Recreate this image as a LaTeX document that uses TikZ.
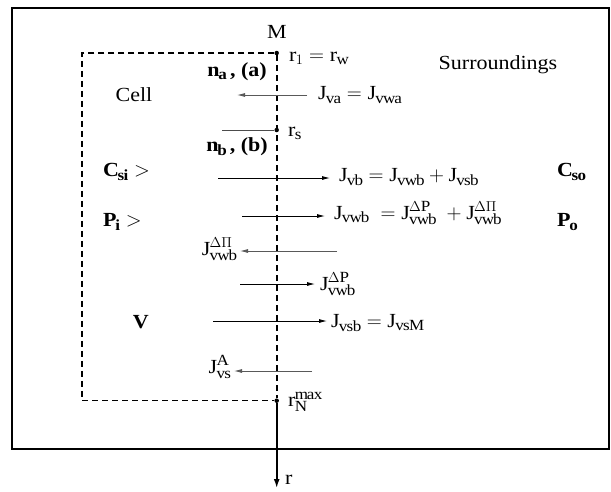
\documentclass[tikz,border=0pt]{standalone}
\usepackage{fontspec}
\setmainfont{Liberation Serif}[FakeStretch=1.1]
\DeclareMathSizes{20}{20}{15.5}{12}
\usetikzlibrary{arrows.meta}
\begin{document}
\begin{tikzpicture}[x=1pt,y=-1pt,
  txt/.style={inner sep=0pt,font=\fontsize{20}{24}\selectfont},
  flow/.style={line width=0.8pt,-{Latex[length=8pt,width=4pt]}},
  flowg/.style={flow,draw=black!65},
  cellb/.style={line width=1.2pt,dash pattern=on 6pt off 4pt},
  axis/.style={line width=1.6pt,dash pattern=on 6pt off 4pt},
  dotn/.style={circle,fill=black,inner sep=0pt,minimum size=4.5pt}]
\useasboundingbox (0,0) rectangle (611,491);
% outer surroundings box
\draw[line width=2.5pt] (12,8) rectangle (609,449);
% membrane axis points
\node[dotn] (top) at (276.7,53) {};
\node[dotn] (bot) at (276.7,400.7) {};
\node[dotn] (rs) at (276.7,130) {};
\coordinate (cTL) at (82,53);
\coordinate (cBL) at (82,400.7);
\coordinate (rend) at (276.7,488);
% cell boundary
\draw[cellb] (top) -- (cTL) -- (cBL) -- (bot);
\draw[axis] (top) -- (bot);
\draw[line width=1.6pt,-{Latex[length=9pt,width=6pt]}] (bot) -- (rend);
% labels
\node[txt] (M) at (277,32) {M};
\node[txt,anchor=west] (r1) at (289,58) {$\mathrm{r}_1=\mathrm{r}_{\mathrm{w}}$};
\node[txt] (surr) at (498,65) {Surroundings};
\node[txt] (cell) at (134,95) {Cell};
\node[txt] (na) at (237,72) {$\mathbf{n}_{\mathbf{a}}$\textbf{\,, (a)}};
\node[txt] (nb) at (237,147) {$\mathbf{n}_{\mathbf{b}}$\textbf{\,, (b)}};
\node[txt,anchor=west] (rsl) at (288,133) {$\mathrm{r}_{\mathrm{s}}$};
\node[txt,anchor=west] (rN) at (288,402) {$\mathrm{r}^{\mathrm{max}}_{\mathrm{N}}$};
\node[txt,anchor=west] (rl) at (285,480) {r};
% rs short line
\coordinate (rsL) at (222,130);
\draw[line width=0.8pt,draw=black!70] (rsL) -- (rs);
% row a
\coordinate (a1) at (307,95); \coordinate (a2) at (237,95);
\draw[flowg] (a1) -- (a2);
\node[txt,anchor=west] (Ja) at (318,95) {$\mathrm{J}_{\mathrm{va}}=\mathrm{J}_{\mathrm{vwa}}$};
% row Csi
\node[txt,anchor=west] (Csi) at (103,172) {$\mathbf{C}_{\mathbf{si}}>$};
\coordinate (b1) at (218,178); \coordinate (b2) at (330,178);
\draw[flow] (b1) -- (b2);
\node[txt,anchor=west] (Jb) at (339,177) {$\mathrm{J}_{\mathrm{vb}}=\mathrm{J}_{\mathrm{vwb}}+\mathrm{J}_{\mathrm{vsb}}$};
\node[txt,anchor=west] (Cso) at (557,172) {$\mathbf{C}_{\mathbf{so}}$};
% row Pi
\node[txt,anchor=west] (Pi) at (103,222) {$\mathbf{P}_{\mathbf{i}}>$};
\coordinate (c1) at (242,216); \coordinate (c2) at (325,216);
\draw[flow] (c1) -- (c2);
\node[txt,anchor=west] (Jvwb) at (334,213) {$\mathrm{J}_{\mathrm{vwb}}\;=\mathrm{J}^{\Delta\mathrm{P}}_{\mathrm{vwb}}\;+\mathrm{J}^{\Delta\Pi}_{\mathrm{vwb}}$};
\node[txt,anchor=west] (Po) at (557,222) {$\mathbf{P}_{\mathbf{o}}$};
% osmotic
\coordinate (d1) at (337,251); \coordinate (d2) at (240,251);
\draw[flowg] (d1) -- (d2);
\node[txt,anchor=east] (JPi) at (237,249) {$\mathrm{J}^{\Delta\Pi}_{\mathrm{vwb}}$};
% hydrostatic
\coordinate (e1) at (240,284); \coordinate (e2) at (315,284);
\draw[flow] (e1) -- (e2);
\node[txt,anchor=west] (JP) at (320,284) {$\mathrm{J}^{\Delta\mathrm{P}}_{\mathrm{vwb}}$};
% V row
\node[txt] (V) at (140,322) {$\mathbf{V}$};
\coordinate (f1) at (213,321); \coordinate (f2) at (327,321);
\draw[flow] (f1) -- (f2);
\node[txt,anchor=west] (Jvsb) at (331,323) {$\mathrm{J}_{\mathrm{vsb}}=\mathrm{J}_{\mathrm{vsM}}$};
% A row
\coordinate (g1) at (312,371); \coordinate (g2) at (234,371);
\draw[flowg] (g1) -- (g2);
\node[txt,anchor=east] (JA) at (231,367) {$\mathrm{J}^{\mathrm{A}}_{\mathrm{vs}}$};
\end{tikzpicture}
\end{document}
